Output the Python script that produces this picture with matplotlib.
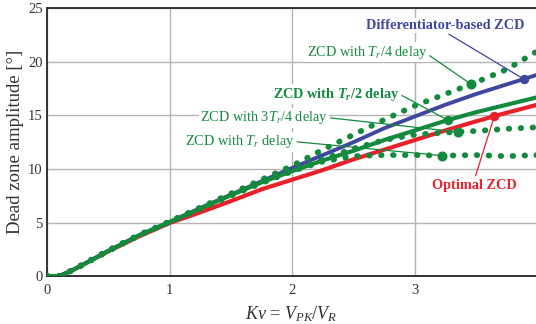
import numpy as np
import matplotlib
matplotlib.use("Agg")
import matplotlib.pyplot as plt

# ____________________________________________________________________________
# Data: dead zone amplitude [deg] versus Kv = V_PK / V_R

kv = [0.0, 0.1, 0.2, 0.3, 0.5, 0.75, 1.0, 1.25, 1.5, 1.75, 2.0,
      2.25, 2.5, 2.75, 3.0, 3.25, 3.5, 3.75, 4.0]

dz_diff = [0.0, 0.0, 0.5, 1.1, 2.35, 3.8, 5.05, 6.35, 7.6, 8.85, 10.1,
           11.3, 12.5, 13.8, 14.9, 16.0, 17.0, 17.9, 18.8]
dz_opt = [0.0, 0.0, 0.5, 1.1, 2.3, 3.7, 4.95, 5.95, 7.0, 8.1, 9.0,
          9.9, 10.9, 11.8, 12.7, 13.6, 14.45, 15.25, 16.0]
dz_half = [0.0, 0.0, 0.5, 1.1, 2.35, 3.8, 5.05, 6.3, 7.55, 8.75, 9.8,
           10.8, 11.7, 12.7, 13.6, 14.5, 15.3, 16.0, 16.7]
dz_quarter = [0.0, 0.0, 0.5, 1.15, 2.4, 3.85, 5.1, 6.4, 7.7, 9.0, 10.3,
              11.8, 13.2, 14.6, 15.9, 17.0, 18.1, 19.3, 21.0]
dz_3quarter = [0.0, 0.0, 0.5, 1.1, 2.35, 3.8, 5.05, 6.3, 7.55, 8.7, 9.8,
               10.9, 11.9, 12.7, 13.2, 13.4, 13.55, 13.75, 13.9]
dz_full = [0.0, 0.0, 0.5, 1.1, 2.35, 3.8, 5.05, 6.3, 7.5, 8.7, 9.8,
           10.7, 11.2, 11.3, 11.3, 11.25, 11.3, 11.2, 11.3]

# Kv where each curve is labelled
kv_tag = {"diff": 3.89, "opt": 3.65, "half": 3.27,
          "quarter": 3.46, "3quarter": 3.35, "full": 3.22}

# ____________________________________________________________________________
# Style

plt.rcParams["font.family"] = "Liberation Serif"
plt.rcParams["mathtext.fontset"] = "custom"
plt.rcParams["mathtext.rm"] = "Liberation Serif"
plt.rcParams["mathtext.it"] = "Liberation Serif:italic"
plt.rcParams["mathtext.bf"] = "Liberation Serif:bold"
plt.rcParams["mathtext.bfit"] = "Liberation Serif:italic:bold"

BLUE = "#3f479e"
GREEN = "#138a3e"
RED = "#e8202a"
DARK = "#333333"

fig = plt.figure(figsize=(5.36, 3.24), dpi=100)
ax = fig.add_axes([0.0877, 0.148, 0.9123, 0.826])

x = np.array(kv)

ax.plot(x, dz_opt, color=RED, lw=3.0, zorder=4)
ax.plot(x, dz_diff, color=BLUE, lw=2.8, zorder=4)
ax.plot(x, dz_half, color=GREEN, lw=3.0, zorder=4)

def dotted(y):
    ax.plot(x, y, color=GREEN, lw=4.2, linestyle=(0, (0.1, 1.95)),
            dash_capstyle="round", zorder=5)

dotted(dz_quarter)
dotted(dz_3quarter)
dotted(dz_full)

# ____________________________________________________________________________
# Labels with leader lines

def tag(key, series, text, pos, color, relpos, bold=False, big=False):
    xm = kv_tag[key]
    ym = np.interp(xm, x, series)
    ax.plot([xm], [ym], "o", color=color, ms=6.2 if big else 5.8, zorder=6)
    ax.annotate(text, xy=(xm, ym), xytext=pos, ha="center", va="center",
                color=color, fontsize=10.3,
                fontweight="bold" if bold else "normal",
                bbox=dict(fc="white", ec="none", pad=1.0),
                arrowprops=dict(arrowstyle="-", color=color, lw=0.9,
                                relpos=relpos, shrinkA=1, shrinkB=0),
                zorder=7)

tag("diff", dz_diff, "Differentiator-based ZCD", (3.25, 23.4), BLUE,
    (0.5, 0.0), bold=True)
tag("quarter", dz_quarter, r"ZCD with $T_r$/4 delay", (2.61, 20.9), GREEN,
    (1.0, 0.4), big=True)
tag("half", dz_half, r"ZCD with $\mathbfit{T}_\mathbfit{r}$/2 delay",
    (2.36, 17.0), GREEN, (1.0, 0.5), bold=True)
tag("3quarter", dz_3quarter, r"ZCD with 3$T_r$/4 delay", (1.77, 14.8),
    GREEN, (1.0, 0.5), big=True)
tag("full", dz_full, r"ZCD with $T_r$ delay", (1.57, 12.56), GREEN,
    (1.0, 0.5), big=True)
tag("opt", dz_opt, "Optimal ZCD", (3.49, 8.5), RED, (0.5, 1.0), bold=True)

# ____________________________________________________________________________
# Axes

ax.set_xlim(0, 3.99)
ax.set_ylim(0, 25)
ax.set_xticks([0, 1, 2, 3])
ax.set_yticks([0, 5, 10, 15, 20, 25])
ax.grid(True, color="#b4b4b4", lw=1.0)
ax.set_axisbelow(True)
ax.tick_params(length=0, labelsize=10.5, colors=DARK, pad=3)
ax.tick_params(axis="x", pad=6)
for side in ("left", "bottom", "top"):
    ax.spines[side].set_color(DARK)
    ax.spines[side].set_linewidth(1.4)
ax.spines["right"].set_visible(False)

ax.set_ylabel("Dead zone amplitude [°]", fontsize=13.5, color=DARK, labelpad=3)
ax.set_xlabel(r"$Kv$ = $V_{PK}/V_R$", fontsize=13, color=DARK, labelpad=5)

fig.savefig("out.png", dpi=100)
